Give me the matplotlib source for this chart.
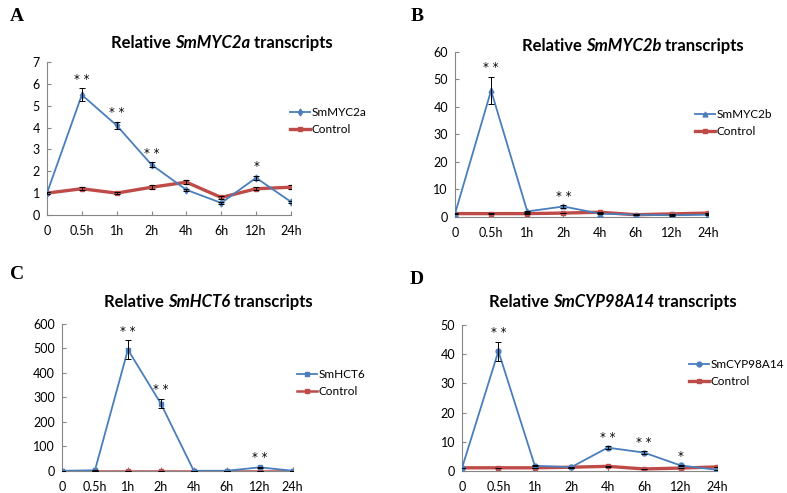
import matplotlib
matplotlib.use("Agg")
import matplotlib.pyplot as plt

plt.rcParams['font.family'] = ['Lato', 'DejaVu Sans']

times = ['0', '0.5h', '1h', '2h', '4h', '6h', '12h', '24h']

# panel A
myc2a = [1.0, 5.5, 4.1, 2.3, 1.15, 0.55, 1.7, 0.6]
myc2a_err = [0.03, 0.3, 0.18, 0.12, 0.05, 0.04, 0.1, 0.04]
ctrl_a = [1.0, 1.2, 1.0, 1.27, 1.5, 0.8, 1.2, 1.27]
ctrl_a_err = [0.05, 0.08, 0.05, 0.08, 0.1, 0.05, 0.08, 0.08]
stars_a = ['', '**', '**', '**', '', '', '*', '']

# panel B
myc2b = [1.0, 46.0, 2.0, 3.8, 1.2, 0.8, 0.6, 0.8]
myc2b_err = [0.1, 5.0, 0.3, 0.5, 0.2, 0.1, 0.1, 0.1]
ctrl_b = [1.2, 1.2, 1.2, 1.4, 1.7, 0.8, 1.1, 1.4]
ctrl_b_err = [0.1, 0.1, 0.1, 0.1, 0.2, 0.1, 0.1, 0.1]
stars_b = ['', '**', '', '**', '', '', '', '']

# panel C
hct6 = [1.0, 3.0, 495.0, 275.0, 1.0, 1.0, 15.0, 1.0]
hct6_err = [0.5, 1.0, 40.0, 20.0, 0.5, 0.5, 3.0, 0.5]
ctrl_c = [1.0, 1.0, 1.0, 1.0, 1.0, 1.0, 1.0, 1.0]
ctrl_c_err = [0.2, 0.2, 0.2, 0.2, 0.2, 0.2, 0.2, 0.2]
stars_c = ['', '', '**', '**', '', '', '**', '']

# panel D
cyp98a14 = [1.0, 41.0, 1.8, 1.3, 8.0, 6.3, 1.9, 0.4]
cyp98a14_err = [0.1, 3.3, 0.2, 0.2, 0.5, 0.4, 0.2, 0.1]
ctrl_d = [1.1, 1.1, 1.1, 1.3, 1.6, 0.7, 1.0, 1.4]
ctrl_d_err = [0.1, 0.1, 0.1, 0.1, 0.15, 0.1, 0.1, 0.1]
stars_d = ['', '**', '', '', '**', '**', '*', '']

# letter, gene, data..., ymax, ystep, marker, control lw, axes rect, letter pos, legend pos, title centre (px)
panels = [
    ('A', 'SmMYC2a', myc2a, myc2a_err, ctrl_a, ctrl_a_err, stars_a, 7, 1, 'd', 2.4,
     [0.0597, 0.564, 0.310, 0.310], (10, 8), (290, 121), (222, 43)),
    ('B', 'SmMYC2b', myc2b, myc2b_err, ctrl_b, ctrl_b_err, stars_b, 60, 10, '^', 2.4,
     [0.578, 0.560, 0.322, 0.3345], (411, 8), (695, 123), (633, 46)),
    ('C', 'SmHCT6', hct6, hct6_err, ctrl_c, ctrl_c_err, stars_c, 600, 100, 's', 1.8,
     [0.0788, 0.0446, 0.293, 0.2984], (10, 266), (297, 383), (208, 302)),
    ('D', 'SmCYP98A14', cyp98a14, cyp98a14_err, ctrl_d, ctrl_d_err, stars_d, 50, 10, 'o', 2.4,
     [0.587, 0.0446, 0.324, 0.2964], (410, 271), (689, 373), (613, 302)),
]

blue = '#4a7ebb'
red = '#be4b48'
W, H = 787, 493

fig = plt.figure(figsize=(7.87, 4.93), dpi=100)
renderer = fig.canvas.get_renderer()


def title_pieces(cx, cy, gene):
    pieces = [('Relative ', 'normal'), (gene, 'italic'), (' transcripts', 'normal')]
    texts = []
    for s, style in pieces:
        t = fig.text(0, 1 - cy / H, s, fontsize=12, fontweight='bold', style=style,
                     va='center', ha='left')
        texts.append(t)
    widths = [t.get_window_extent(renderer).width for t in texts]
    x0 = cx - sum(widths) / 2
    for t, w in zip(texts, widths):
        t.set_x(x0 / W)
        x0 += w


for letter, gene, vals, errs, ctrl, cerr, stars, ymax, ystep, mk, clw, rect, lpos, legpos, tpos in panels:
    ax = fig.add_axes(rect)
    x = list(range(len(times)))
    ax.errorbar(x, vals, yerr=errs, fmt='none', ecolor='black', elinewidth=0.7,
                capsize=2, capthick=0.7, zorder=4)
    ax.errorbar(x, ctrl, yerr=cerr, fmt='none', ecolor='black', elinewidth=0.7,
                capsize=2, capthick=0.7, zorder=4)
    ax.plot(x, vals, color=blue, lw=1.3, marker=mk, ms=3.5, label=gene, zorder=3)
    ax.plot(x, ctrl, color=red, lw=clw, marker='s', ms=3.5, label='Control', zorder=2)
    for i, s in enumerate(stars):
        if s:
            ax.text(i, vals[i] + errs[i] + ymax * 0.015, ' '.join(s), ha='center', va='bottom',
                    fontsize=8.5, family='DejaVu Sans', color='black')
    ax.set_xlim(0, len(times) - 1)
    ax.set_ylim(0, ymax)
    ax.set_yticks(range(0, ymax + 1, ystep))
    ax.set_xticks(x)
    ax.set_xticklabels(times)
    for side in ['top', 'right']:
        ax.spines[side].set_visible(False)
    for side in ['left', 'bottom']:
        ax.spines[side].set_color('#868686')
        ax.spines[side].set_linewidth(0.8)
    ax.tick_params(direction='in', length=3, color='#868686', labelsize=9, pad=5)
    ax.tick_params(axis='x', pad=7)
    ax.legend(loc='center left', bbox_to_anchor=(legpos[0] / W, 1 - legpos[1] / H),
              bbox_transform=fig.transFigure, frameon=False, fontsize=8.5,
              handlelength=1.7, handletextpad=0.1, labelspacing=0.55, borderpad=0,
              borderaxespad=0)
    fig.text(lpos[0] / W, 1 - lpos[1] / H, letter, family='Liberation Serif',
             fontweight='bold', fontsize=14, va='top', ha='left')
    title_pieces(tpos[0], tpos[1], gene)

fig.savefig('out.png', dpi=100)
